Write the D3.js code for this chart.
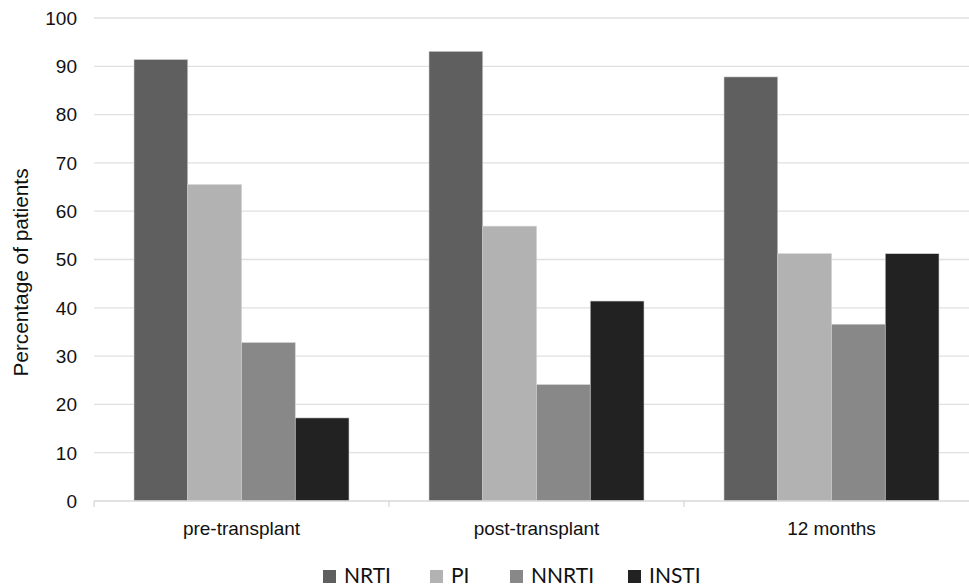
<!DOCTYPE html>
<html><head><meta charset="utf-8">
<script src="https://cdn.jsdelivr.net/npm/d3@7"></script>
<style>body{margin:0;background:#fff}svg{display:block}</style>
</head><body>
<script>
const categories = ["pre-transplant", "post-transplant", "12 months"];
const seriesNames = ["NRTI", "PI", "NNRTI", "INSTI"];
const NRTI = [91.4, 93.1, 87.8];
const PI = [65.5, 56.9, 51.2];
const NNRTI = [32.8, 24.1, 36.6];
const INSTI = [17.2, 41.4, 51.2];
const yTicks = [0, 10, 20, 30, 40, 50, 60, 70, 80, 90, 100];
const colors = ["#5f5f5f", "#b2b2b2", "#888888", "#222222"];

const seriesValues = [NRTI, PI, NNRTI, INSTI];
const W = 969, H = 586;
const FONT = "'Liberation Sans', Arial, sans-serif";
const svg = d3.select("body").append("svg").attr("width", W).attr("height", H);

const x0 = d3.scaleBand().domain(categories).range([94, 979]).padding(0);
const x1 = d3.scaleBand().domain(seriesNames).range([40, x0.bandwidth() - 40]).padding(0);
const y = d3.scaleLinear().domain([0, 100]).range([501, 18]);

// gridlines
svg.append("g").selectAll("line").data(yTicks.filter(d => d > 0)).join("line")
  .attr("x1", 94).attr("x2", 979).attr("y1", d => y(d)).attr("y2", d => y(d))
  .attr("stroke", "#e0e0e0").attr("stroke-width", 1.3);

// y tick labels
svg.append("g").selectAll("text").data(yTicks).join("text")
  .attr("x", 77).attr("y", d => y(d)).attr("dy", "0.36em")
  .attr("text-anchor", "end").style("font-family", FONT)
  .style("font-size", "19px").attr("fill", "#111").text(d => d);

// bars
const groups = svg.append("g").selectAll("g").data(categories).join("g")
  .attr("transform", c => `translate(${x0(c)},0)`);
groups.selectAll("rect").data((c, i) => seriesNames.map((s, j) => ({s, v: seriesValues[j][i], j})))
  .join("rect")
  .attr("x", d => x1(d.s)).attr("width", x1.bandwidth())
  .attr("y", d => y(d.v)).attr("height", d => y(0) - y(d.v))
  .attr("fill", d => colors[d.j]).attr("stroke", "#d0d0d0").attr("stroke-width", 0.6);

// x axis
const xa = svg.append("g");
xa.append("line").attr("x1", 94).attr("x2", 979).attr("y1", y(0)).attr("y2", y(0))
  .attr("stroke", "#d9d9d9").attr("stroke-width", 1.3);
xa.selectAll("line.tick").data(d3.range(categories.length + 1)).join("line").attr("class", "tick")
  .attr("x1", i => 94 + i * x0.bandwidth()).attr("x2", i => 94 + i * x0.bandwidth())
  .attr("y1", y(0)).attr("y2", y(0) + 6).attr("stroke", "#d9d9d9").attr("stroke-width", 1.3);
xa.selectAll("text").data(categories).join("text")
  .attr("x", c => x0(c) + x0.bandwidth() / 2).attr("y", 535)
  .attr("text-anchor", "middle").style("font-family", FONT)
  .style("font-size", "19px").attr("fill", "#111").text(c => c);

// y label
svg.append("text").attr("transform", "translate(28,272.5) rotate(-90)")
  .attr("text-anchor", "middle").style("font-family", FONT)
  .style("font-size", "20.8px").attr("fill", "#111").text("Percentage of patients");

// legend
const legX = [323, 430, 510, 628];
const leg = svg.append("g").selectAll("g").data(seriesNames).join("g")
  .attr("transform", (d, i) => `translate(${legX[i]},570)`);
leg.append("rect").attr("width", 13).attr("height", 13).attr("fill", (d, i) => colors[i]);
leg.append("text").attr("x", 21).attr("y", 13).style("font-family", "Lato, 'Open Sans', sans-serif")
  .style("font-size", "21px").attr("fill", "#111").text(d => d);
</script>
</body></html>
